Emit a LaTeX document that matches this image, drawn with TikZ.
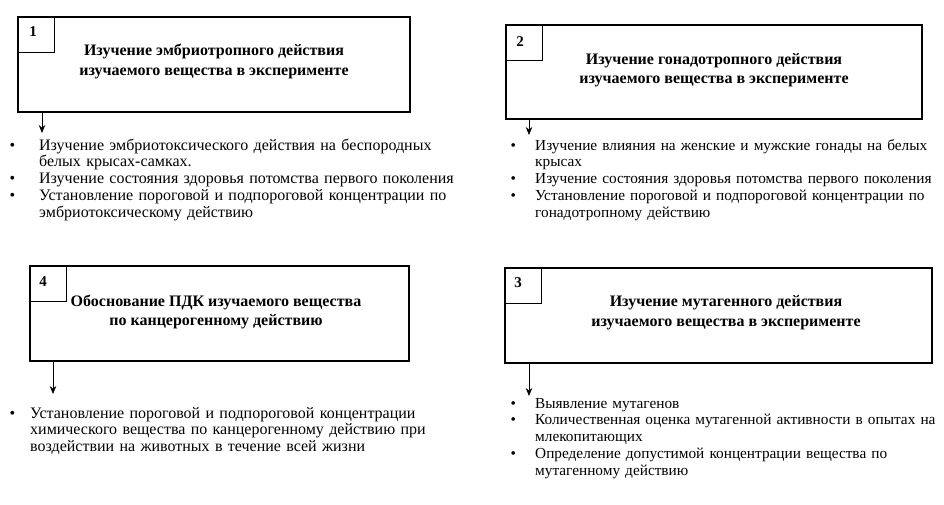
\documentclass[tikz,border=0pt]{standalone}
\usepackage{fontspec}
\setmainfont{Liberation Serif}
\usetikzlibrary{arrows.meta,calc}
\newcommand\bitem[2]{\par\hangindent=#1\hangafter=1\noindent\makebox[#1][l]{•}#2}
\tikzset{
  box/.style={draw, line width=1.1pt, inner sep=0pt, outer sep=0pt, anchor=north west},
  numbox/.style={draw, line width=0.9pt, inner sep=0pt, outer sep=0pt, anchor=north west, minimum width=36pt, minimum height=35pt},
  num/.style={font=\fontsize{15}{17}\selectfont\bfseries, inner sep=0pt},
  title/.style={font=\fontsize{16}{19.5}\selectfont\bfseries, align=center, inner sep=0pt},
  blist/.style={anchor=base west, inner sep=0pt, text width=#1},
  lfont/.style={font=\fontsize{16}{16.7}\selectfont},
  rfont/.style={font=\fontsize{15.3}{16.7}\selectfont},
  arr/.style={line width=0.8pt, -{Stealth[length=8pt,width=6.5pt]}}
}
\begin{document}
\begin{tikzpicture}[x=1pt,y=-1pt]
\useasboundingbox[fill=white] (0,0) rectangle (944,504);
% boxes
\node[box, minimum width=392pt, minimum height=95pt] (b1) at (18,17) {};
\node[box, minimum width=416pt, minimum height=94pt] (b2) at (506,25) {};
\node[box, minimum width=379pt, minimum height=95pt] (b4) at (30,266) {};
\node[box, minimum width=427pt, minimum height=95pt] (b3) at (505,268) {};
% number boxes
\node[numbox] (nb1) at (b1.north west) {};
\node[numbox] (nb2) at (b2.north west) {};
\node[numbox] (nb4) at (b4.north west) {};
\node[numbox] (nb3) at (b3.north west) {};
\node[num] (n1) at (33,32) {1};
\node[num] (n2) at (520,42) {2};
\node[num] (n4) at (43,282) {4};
\node[num] (n3) at (518,283) {3};
% titles
\node[title] (t1) at (214,61.5) {Изучение эмбриотропного действия\\изучаемого вещества в эксперименте};
\node[title] (t2) at (714,70) {Изучение гонадотропного действия\\изучаемого вещества в эксперименте};
\node[title] (t4) at (216,312) {Обоснование ПДК изучаемого вещества\\по канцерогенному действию};
\node[title] (t3) at (726,312.5) {Изучение мутагенного действия\\изучаемого вещества в эксперименте};
% lists
\node[blist=465pt, lfont] (l1) at (9.5,133.5) {\raggedright
\bitem{29.5pt}{Изучение эмбриотоксического действия на беспородных\newline белых крысах-самках.}%
\bitem{29.5pt}{Изучение состояния здоровья потомства первого поколения}%
\bitem{29.5pt}{Установление пороговой и подпороговой концентрации по\newline эмбриотоксическому действию}\par};
\node[blist=460pt, rfont] (l2) at (510.5,133.5) {\raggedright
\bitem{24.5pt}{Изучение влияния на женские и мужские гонады на белых\newline крысах}%
\bitem{24.5pt}{Изучение состояния здоровья потомства первого поколения}%
\bitem{24.5pt}{Установление пороговой и подпороговой концентрации по\newline гонадотропному действию}\par};
\node[blist=465pt, lfont] (l4) at (9.5,401.5) {\raggedright
\bitem{20.5pt}{Установление пороговой и подпороговой концентрации\newline химического вещества по канцерогенному действию при\newline воздействии на животных в течение всей жизни}\par};
\node[blist=460pt, rfont] (l3) at (510.5,391.5) {\raggedright
\bitem{24.5pt}{Выявление мутагенов}%
\bitem{24.5pt}{Количественная оценка мутагенной активности в опытах на\newline млекопитающих}%
\bitem{24.5pt}{Определение допустимой концентрации вещества по\newline мутагенному действию}\par};
% arrows
\coordinate (a1) at (42,133);
\coordinate (a2) at (529,135);
\coordinate (a4) at (53,394);
\coordinate (a3) at (529,396);
\draw[arr] (b1.south west -| a1) -- (a1);
\draw[arr] (b2.south west -| a2) -- (a2);
\draw[arr] (b4.south west -| a4) -- (a4);
\draw[arr] (b3.south west -| a3) -- (a3);
\end{tikzpicture}
\end{document}
